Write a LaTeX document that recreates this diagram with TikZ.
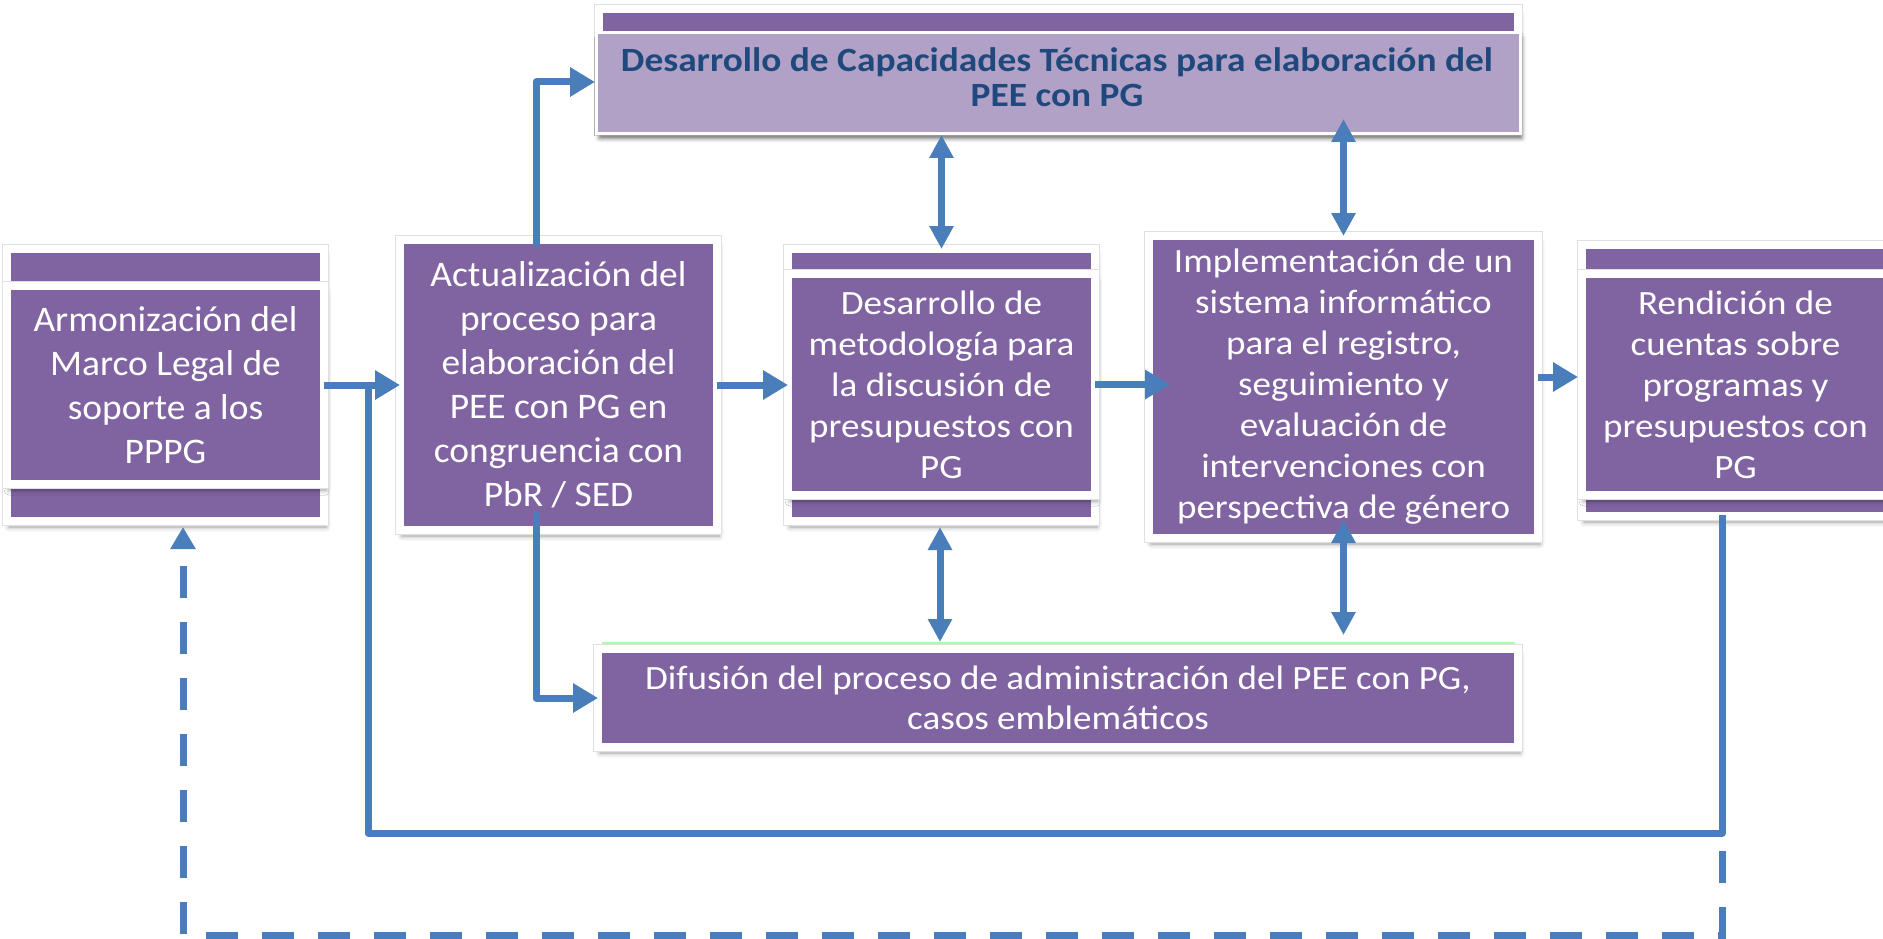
\documentclass[tikz,border=0pt]{standalone}
\usepackage{fontspec}
\setmainfont{Carlito}
\newfontfamily\fontA[FakeStretch=1.04]{Carlito}
\newfontfamily\fontB[FakeStretch=1.09]{Carlito}
\newfontfamily\fontC[FakeStretch=1.10]{Carlito}
\usetikzlibrary{arrows.meta,shadows.blur,calc}
\definecolor{pur}{HTML}{8064A2}
\definecolor{lpur}{HTML}{B2A1C7}
\definecolor{tblue}{HTML}{1F497D}
\definecolor{ablue}{HTML}{4A7EBB}
\begin{document}
\begin{tikzpicture}[x=1pt,y=-1pt,
  frame/.style={fill=pur, draw=white, line width=8pt, inner sep=0pt, outer sep=0pt,
     blur shadow={shadow xshift=2pt, shadow yshift=-6pt, shadow blur radius=5pt, shadow opacity=40},
     preaction={draw=black!12, line width=10pt}},
  boxtxt/.style={text=white, align=center, font=\fontB\fontsize{34}{41}\selectfont},
  bigtxt/.style={text=white, align=center, font=\fontA\fontsize{36}{44}\selectfont},
  arr/.style={draw=ablue, line width=7pt, -{Triangle[length=25pt,width=28pt]}, line join=round},
  darr/.style={draw=ablue, line width=7pt, {Triangle[length=23pt,width=23pt]}-{Triangle[length=23pt,width=23pt]}},
  fb/.style={draw=ablue, line width=7pt, line join=round},
  fbd/.style={draw=ablue, line width=7pt, dash pattern=on 32pt off 24pt, -{Triangle[length=22pt,width=24pt]}},
]
\useasboundingbox (0,0) rectangle (1883,939);
\clip (0,0) rectangle (1883,939);

% Box 1 (stacked)
\node[frame, minimum width=317pt, minimum height=272pt] (b1b) at (165.5,385) {};
\node[frame, minimum width=317pt, minimum height=198pt, bigtxt] (b1f) at (165.5,385)
  {Armonización del\\Marco Legal de\\soporte a los\\PPPG};

% Box 2
\node[frame, minimum width=317pt, minimum height=290pt, bigtxt] (b2) at (558.5,385)
  {Actualización del\\proceso para\\elaboración del\\PEE con PG en\\congruencia con\\PbR / SED};

% Box 3 (stacked)
\node[frame, minimum width=307pt, minimum height=272pt] (b3b) at (941.5,385) {};
\node[frame, minimum width=307pt, minimum height=221pt, boxtxt] (b3f) at (941.5,384.5)
  {Desarrollo de\\metodología para\\la discusión de\\presupuestos con\\PG};

% Box 4
\node[frame, minimum width=389pt, minimum height=302pt, boxtxt] (b4) at (1343.5,387)
  {Implementación de un\\sistema informático\\para el registro,\\seguimiento y\\evaluación de\\intervenciones con\\perspectiva de género};

% Box 5 (stacked, cut by the right edge)
\node[frame, minimum width=307pt, minimum height=271pt] (b5b) at (1735.5,380.5) {};
\node[frame, minimum width=307pt, minimum height=221pt, boxtxt] (b5f) at (1735.5,384.5)
  {Rendición de\\cuentas sobre\\programas y\\presupuestos con\\PG};

% Top box
\node[frame, minimum width=919pt, minimum height=122pt] (tbb) at (1058.5,70) {};
\node[fill=lpur, draw=white, line width=3pt, inner sep=0pt, minimum width=924pt, minimum height=101pt,
  blur shadow={shadow xshift=2pt, shadow yshift=-5pt, shadow blur radius=4pt, shadow opacity=35}] (tbf) at (1058.5,83) {};
\node[text=tblue, align=center, font=\fontC\bfseries\fontsize{34}{35}\selectfont] (ttx) at (1057,77)
  {Desarrollo de Capacidades Técnicas para elaboración del\\PEE con PG};

% Bottom box
\node[frame, minimum width=920pt, minimum height=98pt, text=white, align=center,
  font=\fontB\fontsize{34}{40}\selectfont] (dif) at (1058,698)
  {Difusión del proceso de administración del PEE con PG,\\casos emblemáticos};
\draw[green!35, line width=1.5pt] (602,643) -- (1515,643);

% Main flow arrows
\draw[arr] (b1f.east) -- (b2.west);
\draw[arr] (b2.east) -- (b2.east -| b3f.west);
\draw[arr] (b3f.east) -- ($(b3f.east -| b4.west)+(21,0)$);
\coordinate (a4) at ($(b4.east)+(0,-10)$);
\draw[arr] (a4) -- ($(a4 -| b5f.west)+(-4,0)$);

% Branches from box 2
\coordinate (a5s) at (536,246);
\draw[arr] (a5s) |- ($(tbf.west)+(0,-1)$);
\coordinate (a6s) at (536,512);
\draw[arr] (a6s) |- (dif.west);

% Double arrows
\draw[darr] (b3b.north |- tbf.south) -- (b3b.north);
\coordinate (d2t) at (1343.5,119);
\draw[darr] (d2t) -- (b4.north);
\coordinate (d3t) at (940,527);
\coordinate (d3b) at (940,642);
\draw[darr] (d3t) -- (d3b);
\coordinate (d4t) at (1343.5,520);
\coordinate (d4b) at (1343.5,635);
\draw[darr] (d4t) -- (d4b);

% Feedback loops
\coordinate (fbs) at (1722,515);
\coordinate (fbj) at (368,384);
\draw[fb] (fbs) -- (1722,833) -- (368,833) -- (fbj);
\coordinate (fde) at (183,527);
\draw[fbd] (fbs) -- (1722,935) -- (183,935) -- (fde);
\end{tikzpicture}
\end{document}
